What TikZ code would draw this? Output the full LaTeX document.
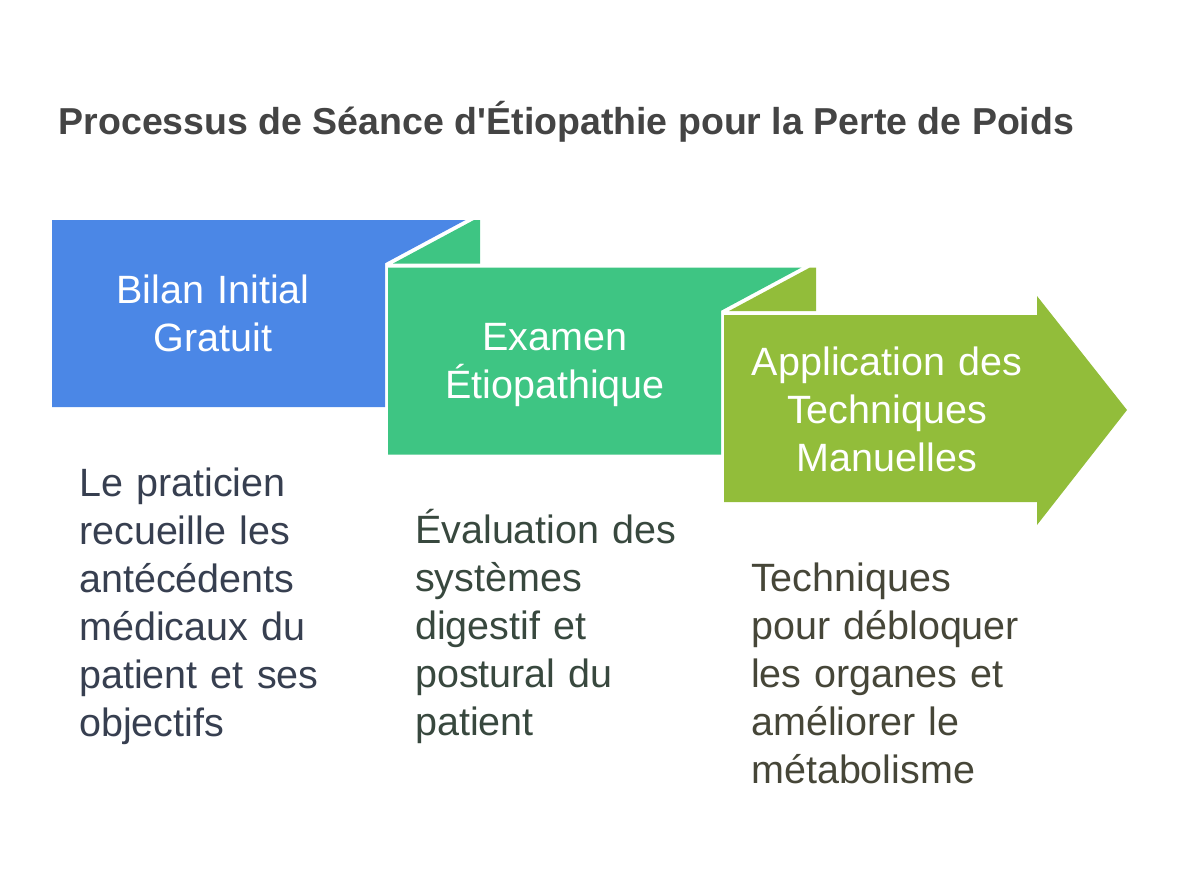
\documentclass[tikz,border=0pt]{standalone}
\usepackage{fontspec}
\setmainfont{Liberation Sans}

\definecolor{bleu}{RGB}{75,135,230}
\definecolor{vert}{RGB}{62,197,131}
\definecolor{olive}{RGB}{146,189,58}
\definecolor{titregris}{RGB}{68,68,68}
\definecolor{textebleu}{RGB}{55,63,80}
\definecolor{textevert}{RGB}{56,72,62}
\definecolor{texteolive}{RGB}{70,70,56}

\begin{document}
\begin{tikzpicture}[x=1pt,y=-1pt,
    boxtext/.style={anchor=base, inner sep=0pt, text width=330pt, align=center,
        text=white, font=\fontsize{39.5}{48}\selectfont},
    desc/.style={anchor=base west, inner sep=0pt, text width=330pt, align=left,
        font=\fontsize{39.5}{48}\selectfont}]
        \useasboundingbox (0,0) rectangle (1181,892);

        % Title
        \node[anchor=base west, inner sep=0pt, text=titregris,
            font=\fontsize{37.5}{45}\selectfont\bfseries] (titre) at (58.5,134.3)
            {Processus de Séance d\textquotesingle Étiopathie pour la Perte de Poids};

        % Ribbon
        \fill[bleu] (52,220) -- (465.5,220) -- (385,263.2) -- (385,407) -- (52,407) -- cycle;
        \fill[vert] (393,263.5) -- (474,220) -- (480,220) -- (480,263.5) -- cycle;
        \fill[vert] (388,267.5) -- (801.5,267.5) -- (721,310.7) -- (721,454.5) -- (388,454.5) -- cycle;
        \fill[olive] (729,311) -- (810,267.5) -- (816,267.5) -- (816,311) -- cycle;
        \fill[olive] (724,315) -- (1037,315) -- (1037,296) -- (1127,410) -- (1037,525)
            -- (1037,502) -- (724,502) -- cycle;

        % Labels
        \node[boxtext] (bilan) at (213,303) {Bilan Initial\\Gratuit};
        \node[boxtext] (examen) at (555,350.5) {Examen\\Étiopathique};
        \node[boxtext] (application) at (887,375.5) {Application des\\Techniques\\Manuelles};

        % Descriptions
        \node[desc, text=textebleu] (descbilan) at (79,496)
            {Le praticien\\recueille les\\antécédents\\médicaux du\\patient et ses\\objectifs};
        \node[desc, text=textevert] (descexamen) at (415,543.5)
            {Évaluation des\\systèmes\\digestif et\\postural du\\patient};
        \node[desc, text=texteolive] (descapplication) at (751,591.5)
            {Techniques\\pour débloquer\\les organes et\\améliorer le\\métabolisme};
    \end{tikzpicture}
\end{document}
